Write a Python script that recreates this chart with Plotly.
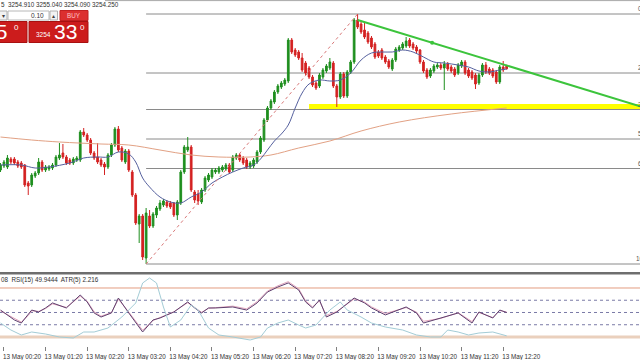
import plotly.graph_objects as go
import pandas as pd

# ---------------- data ----------------
base = pd.Timestamp("2025-05-13 00:15")
step = pd.Timedelta(minutes=5)

opens = [3234.0, 3234.8, 3234.6, 3236.2, 3236.2, 3235.6, 3235.4, 3235.0, 3231.4, 3231.0,
         3232.8, 3233.4, 3235.6, 3234.0, 3234.2, 3234.4, 3235.0, 3236.4, 3237.4, 3236.6,
         3236.0, 3235.4, 3236.0, 3236.0, 3241.6, 3241.0, 3240.0, 3237.4, 3236.6, 3236.0,
         3235.2, 3234.6, 3237.0, 3239.0, 3242.2, 3238.4, 3235.6, 3237.8, 3233.6, 3229.0,
         3223.2, 3224.8, 3216.4, 3224.8, 3222.8, 3225.0, 3226.2, 3227.0, 3227.6, 3227.4,
         3227.4, 3225.0, 3227.4, 3233.6, 3238.0, 3238.6, 3229.6, 3229.2, 3227.6, 3230.0,
         3232.0, 3232.6, 3233.6, 3233.6, 3234.0, 3234.2, 3235.0, 3234.0, 3236.4, 3237.0,
         3236.4, 3236.0, 3234.6, 3234.8, 3235.6, 3237.6, 3240.0, 3244.0, 3246.4, 3247.6,
         3249.6, 3250.6, 3251.2, 3251.8, 3260.0, 3258.0, 3257.6, 3256.4, 3255.4, 3254.4,
         3252.6, 3251.4, 3250.8, 3252.6, 3253.8, 3254.4, 3255.4, 3250.8, 3248.6, 3253.2,
         3248.8, 3253.6, 3255.6, 3264.0, 3263.2, 3262.0, 3261.4, 3260.4, 3259.2, 3257.6,
         3258.0, 3256.6, 3255.8, 3254.2, 3256.0, 3258.0, 3258.4, 3258.8, 3260.0, 3259.2,
         3258.6, 3258.0, 3255.6, 3254.0, 3252.8, 3253.8, 3254.6, 3255.0, 3254.4, 3255.2,
         3254.6, 3254.2, 3253.4, 3254.8, 3255.6, 3254.0, 3253.6, 3253.0, 3251.4, 3253.0,
         3255.0, 3254.2, 3254.0, 3253.6, 3251.6, 3254.6, 3254.91]
highs = [3235.4, 3236.0, 3237.0, 3236.6, 3236.6, 3236.0, 3235.8, 3235.2, 3231.8, 3233.4,
         3233.8, 3236.4, 3236.0, 3235.0, 3235.0, 3235.4, 3237.0, 3239.4, 3239.2, 3237.0,
         3236.4, 3236.6, 3236.8, 3242.0, 3242.4, 3241.4, 3240.4, 3237.8, 3239.4, 3236.4,
         3235.6, 3237.4, 3239.4, 3242.6, 3242.8, 3238.8, 3238.2, 3238.2, 3234.0, 3229.4,
         3225.2, 3225.2, 3226.4, 3226.0, 3225.6, 3226.8, 3228.0, 3228.2, 3228.0, 3227.8,
         3227.6, 3228.0, 3234.0, 3239.0, 3240.6, 3239.0, 3230.0, 3230.0, 3230.4, 3232.8,
         3233.4, 3234.4, 3234.4, 3234.8, 3235.0, 3235.4, 3235.4, 3237.0, 3237.4, 3237.4,
         3236.8, 3236.4, 3235.8, 3236.4, 3238.0, 3240.8, 3244.4, 3246.8, 3248.2, 3250.0,
         3251.2, 3251.8, 3252.4, 3260.4, 3260.4, 3258.4, 3258.0, 3257.4, 3255.8, 3254.8,
         3253.0, 3251.8, 3253.4, 3254.4, 3255.2, 3256.4, 3255.8, 3251.2, 3253.6, 3253.6,
         3254.0, 3256.0, 3264.4, 3265.2, 3263.6, 3263.6, 3261.8, 3260.8, 3259.6, 3258.0,
         3258.4, 3257.0, 3256.2, 3256.4, 3258.6, 3259.0, 3259.6, 3260.6, 3260.4, 3259.6,
         3259.0, 3258.2, 3256.0, 3254.4, 3254.4, 3255.2, 3255.4, 3255.4, 3255.8, 3255.6,
         3255.0, 3254.6, 3255.4, 3256.0, 3256.0, 3254.4, 3254.0, 3253.4, 3253.4, 3255.4,
         3255.6, 3254.6, 3254.4, 3254.0, 3255.0, 3255.8, 3255.04]
lows = [3233.6, 3234.4, 3234.2, 3235.2, 3235.0, 3234.4, 3234.2, 3230.6, 3229.0, 3230.6,
        3232.4, 3233.0, 3233.6, 3233.6, 3233.8, 3234.0, 3234.6, 3236.0, 3236.2, 3235.0,
        3235.0, 3235.0, 3235.6, 3235.6, 3240.6, 3239.6, 3237.0, 3236.0, 3235.2, 3234.6,
        3233.0, 3234.2, 3236.6, 3238.6, 3237.6, 3235.6, 3235.2, 3233.6, 3228.6, 3223.0,
        3219.4, 3216.0, 3215.2, 3222.4, 3222.4, 3224.4, 3225.8, 3226.6, 3226.4, 3226.2,
        3224.6, 3224.0, 3227.0, 3233.2, 3237.6, 3229.6, 3227.4, 3227.0, 3227.2, 3229.6,
        3231.6, 3232.2, 3233.2, 3233.2, 3233.6, 3233.8, 3233.2, 3233.6, 3236.0, 3235.6,
        3235.0, 3234.2, 3234.2, 3234.4, 3235.2, 3237.2, 3239.6, 3243.6, 3246.0, 3247.2,
        3249.2, 3250.2, 3250.8, 3251.4, 3257.2, 3256.6, 3256.0, 3253.6, 3253.0, 3252.2,
        3250.6, 3250.0, 3250.4, 3252.2, 3253.4, 3254.0, 3250.4, 3246.6, 3248.2, 3248.4,
        3248.4, 3253.2, 3255.2, 3262.2, 3261.2, 3260.2, 3259.2, 3258.2, 3256.2, 3256.4,
        3256.0, 3255.2, 3254.2, 3253.8, 3255.6, 3257.6, 3258.0, 3258.4, 3258.4, 3258.0,
        3257.4, 3255.2, 3253.4, 3252.2, 3252.4, 3253.4, 3254.2, 3254.0, 3250.0, 3253.8,
        3253.4, 3252.6, 3253.0, 3254.4, 3253.0, 3252.4, 3252.0, 3250.2, 3251.0, 3252.6,
        3253.2, 3253.0, 3252.4, 3251.2, 3251.2, 3253.6, 3254.09]
closes = [3235.0, 3235.6, 3236.4, 3235.6, 3235.4, 3234.8, 3234.6, 3231.0, 3230.8, 3233.0,
          3233.4, 3235.6, 3234.0, 3234.6, 3234.6, 3235.0, 3236.6, 3237.0, 3236.6, 3235.4,
          3235.4, 3236.2, 3236.4, 3241.6, 3241.0, 3240.0, 3237.4, 3236.4, 3235.6, 3235.0,
          3234.6, 3237.0, 3239.0, 3242.2, 3238.0, 3236.0, 3237.8, 3234.0, 3229.0, 3223.4,
          3224.8, 3216.6, 3225.4, 3222.8, 3225.2, 3226.4, 3227.4, 3227.8, 3226.8, 3226.6,
          3225.0, 3227.6, 3233.6, 3238.6, 3238.6, 3230.0, 3228.0, 3227.8, 3230.0, 3232.4,
          3233.0, 3234.0, 3234.0, 3234.4, 3234.6, 3235.0, 3233.6, 3236.6, 3237.0, 3236.0,
          3235.4, 3234.6, 3235.4, 3236.0, 3237.6, 3240.4, 3244.0, 3246.4, 3247.8, 3249.6,
          3250.8, 3251.4, 3252.0, 3260.0, 3257.6, 3257.0, 3256.4, 3254.0, 3253.4, 3252.6,
          3251.0, 3250.4, 3253.0, 3254.0, 3254.8, 3255.6, 3250.8, 3248.6, 3253.2, 3248.8,
          3253.6, 3255.6, 3264.0, 3262.6, 3261.6, 3260.6, 3259.6, 3258.6, 3256.6, 3256.8,
          3256.4, 3255.6, 3254.6, 3256.0, 3258.2, 3258.6, 3259.2, 3259.8, 3258.8, 3258.4,
          3257.8, 3255.6, 3253.8, 3252.6, 3254.0, 3254.8, 3255.0, 3254.4, 3255.2, 3254.2,
          3253.8, 3253.0, 3255.0, 3255.6, 3253.4, 3252.8, 3252.4, 3251.2, 3253.0, 3255.0,
          3253.6, 3253.4, 3252.8, 3251.6, 3254.6, 3254.0, 3254.25]

# fast MA (blue) read at bar indices
blue_idx = [0, 6, 10, 14, 20, 24, 28, 31, 34, 37, 39, 41, 43, 46, 49, 52, 55, 58, 61, 64,
            67, 70, 73, 75, 77, 79, 81, 83, 85, 87, 89, 92, 95, 98, 101, 104, 107, 110, 113, 116,
            119, 122, 125, 128, 132, 135, 138, 141, 144, 146]
blue_vals = [3235.0, 3235.0, 3234.4, 3234.6, 3235.4, 3236.4, 3236.6, 3236.6, 3237.6, 3237.2,
             3235.6, 3232.4, 3230.6, 3228.6, 3227.6, 3227.4, 3228.6, 3229.6, 3231.4, 3232.6,
             3233.6, 3234.4, 3235.0, 3236.2, 3238.0, 3239.8, 3241.2, 3243.0, 3246.4, 3249.4,
             3251.2, 3252.0, 3251.8, 3252.0, 3253.4, 3256.0, 3257.4, 3257.6, 3257.6, 3258.0,
             3257.6, 3256.6, 3255.6, 3255.4, 3255.0, 3254.6, 3253.8, 3253.6, 3254.0, 3254.2]
# slow MA (orange)
orange_idx = [0, 9, 17, 29, 37, 46, 55, 63, 72, 78, 86, 95, 104, 115, 130, 146]
orange_vals = [3240.6, 3240.0, 3239.6, 3239.2, 3239.0, 3238.0, 3237.0, 3236.6, 3236.6, 3237.0,
               3238.4, 3239.8, 3241.8, 3243.6, 3245.2, 3246.4]

# Fibonacci retracement
fib_anchor_idx = [42, 103]
fib_anchor_prices = [3215.2, 3265.2]
fib_labels = ["0.0", "23.6", "38.2", "50.0", "61.8", "100.0"]
fib_prices = [3265.2, 3253.4, 3246.1, 3240.2, 3234.3, 3215.2]

# trendline (green) and support zone (yellow)
trend_times = [pd.Timestamp("2025-05-13 08:50"), pd.Timestamp("2025-05-13 12:25")]
trend_prices = [3264.0, 3254.9]
zone_start = pd.Timestamp("2025-05-13 07:40")
zone_prices = [3246.2, 3247.2]

# time axis labels (hourly, as shown)
tick_times = ["2025-05-13 00:20", "2025-05-13 01:20", "2025-05-13 02:20", "2025-05-13 03:20",
              "2025-05-13 04:20", "2025-05-13 05:20", "2025-05-13 06:20", "2025-05-13 07:20",
              "2025-05-13 08:20", "2025-05-13 09:20", "2025-05-13 10:20", "2025-05-13 11:20",
              "2025-05-13 12:20"]
tick_text = ["13 May 00:20", "13 May 01:20", "13 May 02:20", "13 May 03:20", "13 May 04:20",
             "13 May 05:20", "13 May 06:20", "13 May 07:20", "13 May 08:20", "13 May 09:20",
             "13 May 10:20", "13 May 11:20", "13 May 12:20"]

# sub window indicators
rsi_idx = [0, 4, 6, 8, 9, 11, 13, 15, 19, 23, 25, 27, 29, 32, 34, 37, 39, 41, 44, 46,
           50, 54, 56, 58, 60, 62, 67, 71, 74, 77, 80, 83, 86, 88, 90, 92, 94, 97, 102, 105,
           107, 111, 117, 120, 122, 127, 132, 136, 138, 142, 144, 146]
rsi_a = [52.0, 43.9, 41.4, 48.0, 52.0, 50.4, 53.7, 57.8, 53.7, 64.3,
         58.6, 49.6, 46.3, 49.6, 61.8, 49.6, 41.4, 34.1, 43.9, 45.5,
         50.4, 58.6, 53.7, 49.6, 53.7, 53.7, 54.5, 52.0, 57.8, 66.7,
         70.8, 74.1, 68.4, 58.6, 53.7, 60.2, 46.3, 50.4, 61.8, 57.8,
         53.7, 48.0, 54.5, 49.6, 41.4, 45.5, 49.6, 41.4, 50.4, 45.5,
         52.0, 49.9444]
rsi_b = [51.2, 44.8, 42.2, 47.5, 51.4, 50.9, 53.2, 57.0, 54.2, 63.2,
         59.2, 50.6, 47.0, 49.9, 60.8, 50.3, 42.4, 35.5, 43.5, 45.8,
         50.6, 58.0, 54.4, 50.2, 53.4, 54.0, 55.2, 53.0, 58.8, 67.5,
         71.8, 75.2, 69.4, 59.5, 54.6, 59.4, 47.6, 50.8, 61.0, 58.5,
         54.6, 49.2, 54.0, 50.3, 42.8, 45.2, 49.8, 42.6, 50.0, 45.9,
         51.6, 50.4]
atr_idx = [0, 3, 6, 9, 13, 17, 21, 24, 27, 31, 35, 39, 41, 43, 45, 47, 49, 52, 55, 57,
           60, 63, 67, 72, 75, 77, 80, 83, 86, 88, 91, 95, 98, 100, 104, 107, 111, 116, 120, 124,
           127, 129, 132, 135, 138, 142, 146]
atr_vals = [3.5, 2.8, 2.3, 2.6, 2.4, 2.1, 2.0, 2.6, 2.6, 3.0,
            4.1, 5.5, 7.5, 8.0, 7.5, 5.1, 3.1, 3.8, 5.3, 4.8,
            3.0, 2.3, 2.1, 1.8, 2.1, 3.0, 3.5, 3.8, 3.3, 3.0,
            3.3, 4.8, 5.6, 4.8, 4.1, 3.5, 3.1, 2.8, 2.3, 2.1,
            2.1, 2.8, 2.6, 2.3, 2.5, 2.6, 2.216]
rsi_levels_dot = [60, 50, 40]
rsi_level_hi, rsi_level_lo = 70, 30

assert len(opens) == len(highs) == len(lows) == len(closes)
assert len(blue_idx) == len(blue_vals) and len(orange_idx) == len(orange_vals)
assert len(rsi_idx) == len(rsi_a) == len(rsi_b) and len(atr_idx) == len(atr_vals)

# ---------------- layout geometry ----------------
W, H = 640, 360
MB = 14
PH = H - MB
BAR_PX = 3.467
n = len(closes)
times = [base + i * step for i in range(n)]
x_left = base - step * (0.5 / BAR_PX)
x_right = x_left + step * (W / BAR_PX)


def px(x):
    return x / W


def py(y):
    return 1 - y / PH


FONT = "Liberation Sans"
fig = go.Figure()

# candles
fig.add_trace(go.Candlestick(
    x=times, open=opens, high=highs, low=lows, close=closes,
    increasing=dict(line=dict(color="#1f8f1f", width=1), fillcolor="#1f8f1f"),
    decreasing=dict(line=dict(color="#d42222", width=1), fillcolor="#d42222"),
    whiskerwidth=0, hoverinfo="skip", showlegend=False, xaxis="x", yaxis="y"))

# moving averages
fig.add_trace(go.Scatter(x=[times[i] for i in orange_idx], y=orange_vals, mode="lines",
                         line=dict(color="#e2a184", width=1, shape="spline"),
                         showlegend=False, hoverinfo="skip"))
fig.add_trace(go.Scatter(x=[times[i] for i in blue_idx], y=blue_vals, mode="lines",
                         line=dict(color="#55609e", width=1, shape="spline"),
                         showlegend=False, hoverinfo="skip"))

# fib diagonal
fig.add_trace(go.Scatter(x=[times[i] for i in fib_anchor_idx], y=fib_anchor_prices, mode="lines",
                         line=dict(color="#d87878", width=1, dash="dot"),
                         showlegend=False, hoverinfo="skip"))

# green trendline extended to the right edge
dt = (trend_times[1] - trend_times[0]).total_seconds()
slope = (trend_prices[1] - trend_prices[0]) / dt
p_end = trend_prices[0] + slope * (x_right - trend_times[0]).total_seconds()
fig.add_trace(go.Scatter(x=[trend_times[0], x_right], y=[trend_prices[0], p_end], mode="lines",
                         line=dict(color="#3cc43c", width=2), showlegend=False, hoverinfo="skip"))
fig.add_trace(go.Scatter(x=[trend_times[0] + (trend_times[1] - trend_times[0]) / 2],
                         y=[(trend_prices[0] + trend_prices[1]) / 2], mode="markers",
                         marker=dict(color="#3cc43c", size=4), showlegend=False, hoverinfo="skip"))

# sub window
fig.add_trace(go.Scatter(x=[times[i] for i in atr_idx], y=atr_vals, mode="lines",
                         line=dict(color="#a3ccd6", width=1), showlegend=False,
                         hoverinfo="skip", xaxis="x2", yaxis="y3"))
fig.add_trace(go.Scatter(x=[times[i] for i in rsi_idx], y=rsi_b, mode="lines",
                         line=dict(color="#e2a6bd", width=1), showlegend=False,
                         hoverinfo="skip", xaxis="x2", yaxis="y2"))
fig.add_trace(go.Scatter(x=[times[i] for i in rsi_idx], y=rsi_a, mode="lines",
                         line=dict(color="#5e3f6e", width=1), showlegend=False,
                         hoverinfo="skip", xaxis="x2", yaxis="y2"))

shapes = []
# yellow zone
shapes.append(dict(type="rect", xref="x", yref="y", x0=zone_start, x1=x_right,
                   y0=zone_prices[0], y1=zone_prices[1], fillcolor="#ffff00",
                   line=dict(width=0), layer="below"))
# fib levels
for p in fib_prices:
    shapes.append(dict(type="line", xref="x", yref="y", x0=times[fib_anchor_idx[0]], x1=x_right,
                       y0=p, y1=p, line=dict(color="#8a8a8a", width=1), layer="below"))
# rsi levels
shapes.append(dict(type="line", xref="paper", yref="y2", x0=0, x1=1, y0=rsi_level_hi,
                   y1=rsi_level_hi, line=dict(color="#e39c80", width=1), layer="below"))
shapes.append(dict(type="line", xref="paper", yref="y2", x0=0, x1=1, y0=rsi_level_lo,
                   y1=rsi_level_lo, line=dict(color="#ead0bd", width=3), layer="below"))
for lv in rsi_levels_dot:
    shapes.append(dict(type="line", xref="paper", yref="y2", x0=0, x1=1, y0=lv, y1=lv,
                       line=dict(color="#7a7aa6", width=1, dash="dot"), layer="below"))
# window separator and top border
shapes.append(dict(type="line", xref="paper", yref="paper", x0=0, x1=1, y0=py(273.3),
                   y1=py(273.3), line=dict(color="#6e6e6e", width=2.5)))
shapes.append(dict(type="line", xref="paper", yref="paper", x0=px(105), x1=1, y0=py(0.6),
                   y1=py(0.6), line=dict(color="#a8a8a8", width=1)))


# one-click trading panel
def box(x0, y0, x1, y1, fill, border):
    shapes.append(dict(type="rect", xref="paper", yref="paper", x0=px(x0), x1=px(x1),
                       y0=py(y1), y1=py(y0), fillcolor=fill, line=dict(color=border, width=1)))


box(-1, 11, 7, 20, "#f2f2f2", "#b0b0b0")
box(8, 11, 49, 20, "#ffffff", "#b8b8b8")
box(50, 11, 57.5, 20, "#f2f2f2", "#b0b0b0")
box(60, 10.5, 88, 20.5, "#dc2f2f", "#c02020")
box(-2, 21.5, 27, 42.5, "#cc1c1c", "#a81010")
box(29, 21.5, 88, 42.5, "#cc1c1c", "#a81010")

annotations = []


def txt(text, x, y, size, color, xanchor="left", yanchor="middle", xref="paper", yref="paper"):
    annotations.append(dict(text=text, x=x, y=y, xref=xref, yref=yref, xanchor=xanchor,
                            yanchor=yanchor, showarrow=False,
                            font=dict(family=FONT, size=size, color=color)))


txt("5  3254.910 3255.040 3254.090 3254.250", px(-1), py(4.5), 6.3, "#303030")
txt("▾", px(3), py(15.5), 6, "#404040", xanchor="center")
txt("0.10", px(46), py(15.5), 6.5, "#333333", xanchor="right")
txt("▴", px(53.7), py(15.5), 6, "#404040", xanchor="center")
txt("BUY", px(74), py(15.5), 6.3, "#ffc4c4", xanchor="center")
txt("25", px(9), py(32), 21, "#ffffff", xanchor="right")
txt("0", px(11.5), py(27), 8, "#ffffff")
txt("3254", px(43.5), py(34.5), 6.5, "#ffffff", xanchor="center")
txt("33", px(65), py(31.5), 21, "#ffffff", xanchor="center")
txt("0", px(77.5), py(27), 8, "#ffffff")
txt("08  RSI(15) 49.9444  ATR(5) 2.216", px(-1), py(279.5), 6.3, "#303030")
for lab, p in zip(fib_labels, fib_prices):
    txt(lab, px(633.5 if len(lab) > 4 else 635.5), p, 6.3, "#555555", yanchor="bottom",
        xref="paper", yref="y")

fig.update_layout(
    width=W, height=H, margin=dict(l=0, r=0, t=0, b=MB),
    paper_bgcolor="white", plot_bgcolor="white", showlegend=False,
    shapes=shapes, annotations=annotations,
    xaxis=dict(type="date", range=[x_left, x_right], domain=[0, 1], anchor="y",
               showticklabels=False, showgrid=False, zeroline=False, showline=False,
               ticks="", rangeslider=dict(visible=False), matches="x2"),
    yaxis=dict(range=[3213.6, 3268.0], domain=[1 - 272 / PH, 1], showticklabels=False,
               showgrid=False, zeroline=False, ticks=""),
    xaxis2=dict(type="date", range=[x_left, x_right], domain=[0, 1], anchor="y2",
                showgrid=False, zeroline=False, showline=False,
                tickmode="array", tickvals=tick_times, ticktext=tick_text,
                ticks="outside", ticklen=4, tickcolor="#808080", ticklabelshift=18,
                ticklabelstandoff=0,
                tickfont=dict(family=FONT, size=6.3, color="#333333"),
                rangeslider=dict(visible=False)),
    yaxis2=dict(range=[22.65, 80.6], domain=[0, 1 - 275 / PH], anchor="x2",
                showticklabels=False, showgrid=False, zeroline=False, ticks=""),
    yaxis3=dict(range=[1.2, 8.3], overlaying="y2", anchor="x2", showticklabels=False,
                showgrid=False, zeroline=False, ticks=""),
)

fig.write_html("out.html", config={"displayModeBar": False})
